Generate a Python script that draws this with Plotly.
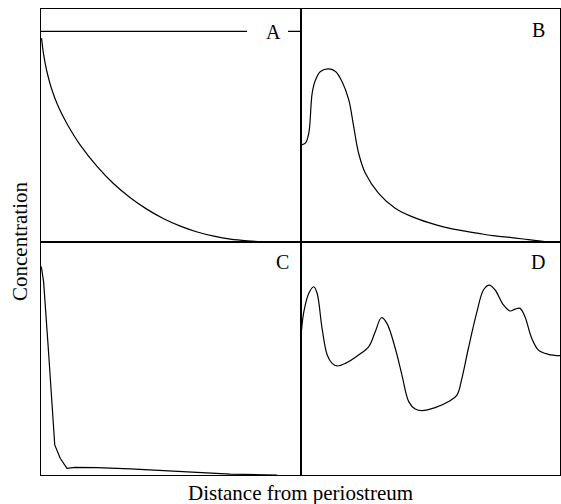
import plotly.graph_objects as go
from plotly.subplots import make_subplots

# ---- data (distance 0-100, concentration 0-100) ----
a_x = [0.2, 1.0, 2.2, 4.0, 6.7, 9.9, 15.2, 21.6, 28.0, 34.4, 40.9, 47.3, 53.7, 60.2, 66.6, 73.0, 79.5, 85.9, 92.3, 100]
a_y = [87.5, 80.5, 73.5, 66.0, 58.0, 51.0, 41.5, 32.5, 25.0, 19.0, 14.0, 10.0, 6.8, 4.3, 2.5, 1.2, 0.5, 0.15, 0.0, 0.0]
a_ref_level = 90.4
a_ref_segments = [(0, 79.4), (95.2, 100)]

b_x = [0.4, 1.9, 3.2, 4.5, 5.8, 7.7, 10.9, 13.5, 16.0, 18.6, 20.5, 22.4, 25.0, 30.1, 36.5, 42.9, 49.4, 55.8, 62.2, 68.6, 75.0, 81.4, 87.8, 95.5, 99.3]
b_y = [41.7, 42.4, 46.7, 63.9, 69.6, 73.2, 74.3, 73.2, 68.9, 61.0, 49.5, 38.1, 29.5, 20.9, 14.5, 10.9, 8.3, 6.3, 4.9, 3.7, 2.6, 1.9, 1.0, 0.0, 0.0]

c_x = [0.1, 1.0, 2.9, 5.3, 7.4, 10.0, 13.2, 21.6, 34.4, 47.3, 60.2, 73.0, 91.0]
c_y = [89.5, 83.0, 52.9, 12.9, 7.2, 2.9, 3.3, 3.2, 2.6, 1.9, 1.1, 0.4, 0.0]

d_x = [0.4, 1.3, 3.2, 5.1, 6.4, 8.3, 10.3, 12.2, 14.1, 17.3, 22.4, 26.3, 28.8, 31.2, 33.3, 36.5, 39.1, 41.7, 44.2, 46.8, 51.9, 57.1, 60.3, 62.2, 64.7, 68.0, 70.5, 72.7, 75.0, 78.2, 80.8, 82.7, 84.6, 86.5, 89.1, 91.7, 95.5, 100]
d_y = [62.2, 70.1, 78.0, 80.8, 78.0, 63.0, 51.5, 47.9, 46.8, 47.9, 51.5, 55.1, 61.5, 67.5, 65.1, 54.4, 42.9, 31.5, 28.3, 27.6, 28.9, 31.5, 34.3, 41.5, 54.4, 70.1, 79.4, 81.5, 79.4, 73.0, 70.4, 71.2, 71.5, 67.9, 58.7, 53.6, 51.8, 51.2]

panel_labels = ["A", "B", "C", "D"]
label_pos = [(89.6, 90.0), (91.7, 91.1), (92.9, 91.5), (91.5, 91.4)]

x_title = "Distance from periostreum"
y_title = "Concentration"

FONT = "Liberation Serif, Times New Roman, DejaVu Serif, serif"
W, H = 561, 504
ML, MR, MT, MB = 41, 1, 9, 29

fig = make_subplots(rows=2, cols=2, horizontal_spacing=0, vertical_spacing=0)

line = dict(color="black", width=1.2)
fig.add_trace(go.Scatter(x=a_x, y=a_y, mode="lines", line=dict(shape="spline", **line)), row=1, col=1)
for x0, x1 in a_ref_segments:
    fig.add_trace(go.Scatter(x=[x0, x1], y=[a_ref_level, a_ref_level], mode="lines", line=line), row=1, col=1)
fig.add_trace(go.Scatter(x=b_x, y=b_y, mode="lines", line=dict(shape="spline", **line)), row=1, col=2)
fig.add_trace(go.Scatter(x=c_x, y=c_y, mode="lines", line=line), row=2, col=1)
fig.add_trace(go.Scatter(x=d_x, y=d_y, mode="lines", line=dict(shape="spline", **line)), row=2, col=2)

axis_style = dict(range=[0, 100], showticklabels=False, ticks="", showgrid=False,
                  zeroline=False, showline=True, mirror=True, linecolor="black", linewidth=1)
fig.update_xaxes(**axis_style)
fig.update_yaxes(**axis_style)

cells = [(1, 1), (1, 2), (2, 1), (2, 2)]
for (r, c), lab, (lx, ly) in zip(cells, panel_labels, label_pos):
    idx = (r - 1) * 2 + c
    xr = "x" if idx == 1 else f"x{idx}"
    yr = "y" if idx == 1 else f"y{idx}"
    fig.add_annotation(x=lx, y=ly, xref=xr, yref=yr, text=lab, showarrow=False,
                       xanchor="center", yanchor="middle",
                       font=dict(family=FONT, size=20, color="black"))

pw = W - ML - MR
ph = H - MT - MB
fig.add_annotation(x=-21 / pw, y=0.5, xref="paper", yref="paper", text=y_title, textangle=-90,
                   xanchor="center", yanchor="middle",
                   showarrow=False, font=dict(family=FONT, size=21, color="black"))
fig.add_annotation(x=0.5, y=-18 / ph, xref="paper", yref="paper", text=x_title,
                   xanchor="center", yanchor="middle",
                   showarrow=False, font=dict(family=FONT, size=21, color="black"))

fig.update_layout(width=W, height=H, margin=dict(l=ML, r=MR, t=MT, b=MB),
                  showlegend=False, plot_bgcolor="white", paper_bgcolor="white")

fig.write_html("out.html")
